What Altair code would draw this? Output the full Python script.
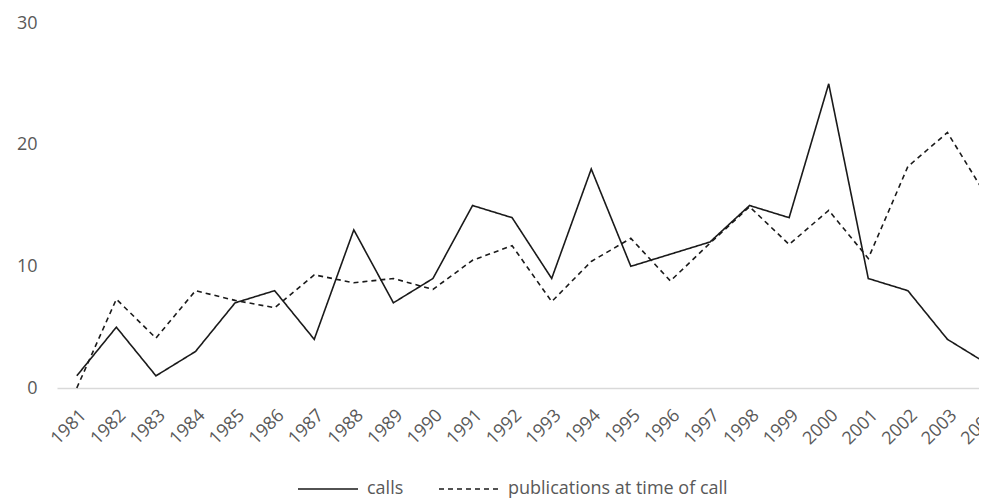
import altair as alt
import pandas as pd

years = list(range(1981, 2005))
calls = [1, 5, 1, 3, 7, 8, 4, 13, 7, 9, 15, 14, 9, 18, 10, 11, 12, 15, 14, 25, 9, 8, 4, 2]
publications = [0, 7.3, 4.1, 8.0, 7.2, 6.6, 9.3, 8.65, 9.0, 8.1, 10.5, 11.7, 7.1, 10.4, 12.3,
                8.8, 11.9, 14.9, 11.8, 14.6, 10.65, 18.2, 21.0, 15.7]
series_names = ["calls", "publications at time of call"]

rows = []
for y, c, p in zip(years, calls, publications):
    rows.append({"year": y, "value": c, "series": series_names[0]})
    rows.append({"year": y, "value": p, "series": series_names[1]})
df = pd.DataFrame(rows)

FONT = "Open Sans"
GRAY = "#595959"

chart = alt.Chart(df).mark_line(strokeWidth=1.6, color="#1a1a1a").encode(
    x=alt.X("year:Q",
            scale=alt.Scale(domain=[1980.5, 2004], range=[0, 930], nice=False, zero=False),
            axis=alt.Axis(values=years, format="d", title=None, labelAngle=-45,
                          labelFont=FONT, labelFontSize=18, labelColor=GRAY,
                          labelOverlap=False, labelBound=False,
                          ticks=False, grid=False, domainColor="#d9d9d9", domainWidth=1.3,
                          labelPadding=18, labelAlign="right", labelBaseline="top")),
    y=alt.Y("value:Q",
            scale=alt.Scale(domain=[0, 30], nice=False),
            axis=alt.Axis(values=[0, 10, 20, 30], title=None, grid=False, domain=False,
                          ticks=False, labelFont=FONT, labelFontSize=18, labelColor=GRAY,
                          labelPadding=20)),
    strokeDash=alt.StrokeDash("series:N",
                              scale=alt.Scale(domain=series_names, range=[[1, 0], [5, 4]]),
                              legend=alt.Legend(title=None, orient="none", direction="horizontal",
                                                legendX=240, legendY=435,
                                                symbolType="stroke", symbolSize=3600,
                                                symbolStrokeColor="#1a1a1a", symbolStrokeWidth=1.5,
                                                labelFont=FONT, labelFontSize=18, labelColor=GRAY,
                                                labelLimit=400,
                                                labelOffset=8, columnPadding=32)),
    order="year:Q",
).properties(
    width=922,
    height=365,
    autosize=alt.AutoSizeParams(type="none"),
    padding={"left": 49, "top": 15, "right": 0, "bottom": 112},
).configure_view(stroke=None)

chart.save("out.html", embed_options={"renderer": "svg", "actions": False})
